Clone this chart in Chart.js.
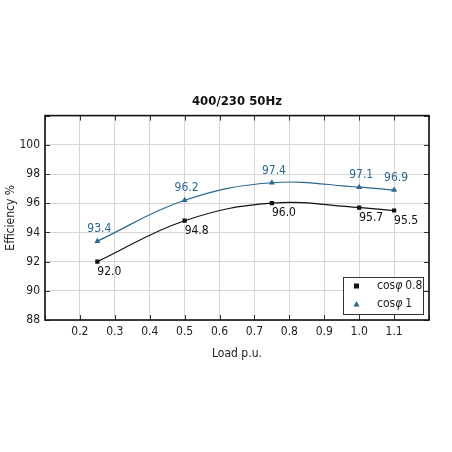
<!DOCTYPE html>
<html>
<head>
<meta charset="utf-8">
<script src="https://cdn.jsdelivr.net/npm/chart.js@4.4.1/dist/chart.umd.min.js"></script>
<style>
  html, body { margin: 0; padding: 0; background: #fff; }
  #wrap { width: 452px; height: 452px; }
</style>
</head>
<body>
<div id="wrap"><canvas id="grafico"></canvas></div>
<script>
// dados
const carga = [0.25, 0.5, 0.75, 1.0, 1.1];
const efic08 = [92.0, 94.8, 96.0, 95.7, 95.5];
const efic1 = [93.4, 96.2, 97.4, 97.1, 96.9];
const nomes = ['0.8', '1'];

const fonte = '"Liberation Sans Narrow", "DejaVu Sans Condensed", "Noto Sans", sans-serif';
const preto = '#111111';
const azul = '#2a6790';

function pontos(ys) {
    return carga.map((x, i) => ({ x: x, y: ys[i] }));
}

// rótulos dos valores, moldura, ticks internos e legenda
const extras = {
    id: 'extras',
    afterDatasetsDraw(chart) {
        const ctx = chart.ctx;
        const a = chart.chartArea;
        const sx = chart.scales.x, sy = chart.scales.y;
        ctx.save();
        ctx.font = '12px ' + fonte;

        // valores
        chart.getDatasetMeta(0).data.forEach((p, i) => {
            ctx.fillStyle = preto;
            ctx.textAlign = 'left';
            ctx.textBaseline = 'middle';
            ctx.fillText(efic08[i].toFixed(1), p.x, p.y + 10);
        });
        chart.getDatasetMeta(1).data.forEach((p, i) => {
            ctx.fillStyle = azul;
            ctx.textAlign = 'center';
            ctx.textBaseline = 'middle';
            ctx.fillText(efic1[i].toFixed(1), p.x + 2, p.y - 12);
        });

        // ticks para dentro
        ctx.strokeStyle = '#333';
        ctx.lineWidth = 1;
        ctx.beginPath();
        sx.ticks.forEach(t => {
            const px = Math.round(sx.getPixelForValue(t.value)) + 0.5;
            ctx.moveTo(px, a.top); ctx.lineTo(px, a.top + 5);
            ctx.moveTo(px, a.bottom); ctx.lineTo(px, a.bottom - 5);
        });
        sy.ticks.forEach(t => {
            const py = Math.round(sy.getPixelForValue(t.value)) + 0.5;
            ctx.moveTo(a.left, py); ctx.lineTo(a.left + 5, py);
            ctx.moveTo(a.right, py); ctx.lineTo(a.right - 5, py);
        });
        ctx.stroke();

        // moldura
        ctx.strokeStyle = preto;
        ctx.lineWidth = 1.6;
        ctx.strokeRect(a.left, a.top, a.right - a.left, a.bottom - a.top);

        // legenda
        const lx = a.right - 86, ly = a.bottom - 43, lw = 80, lh = 37;
        ctx.fillStyle = '#fff';
        ctx.fillRect(lx, ly, lw, lh);
        ctx.strokeStyle = '#333';
        ctx.lineWidth = 1;
        ctx.strokeRect(lx + 0.5, ly + 0.5, lw, lh);
        const cores = [preto, azul];
        nomes.forEach((n, i) => {
            const yy = ly + 9 + i * 18;
            ctx.fillStyle = cores[i];
            if (i === 0) {
                ctx.fillRect(lx + 11, yy - 2.5, 5, 5);
            } else {
                ctx.beginPath();
                ctx.moveTo(lx + 13.5, yy - 3);
                ctx.lineTo(lx + 16.5, yy + 2.5);
                ctx.lineTo(lx + 10.5, yy + 2.5);
                ctx.closePath();
                ctx.fill();
            }
            ctx.fillStyle = '#222';
            ctx.textAlign = 'left';
            ctx.textBaseline = 'middle';
            let xx = lx + 34;
            ctx.font = '12px ' + fonte;
            ctx.fillText('cos', xx, yy);
            xx += ctx.measureText('cos').width;
            ctx.font = 'italic 12px ' + fonte;
            ctx.fillText('φ', xx, yy);
            xx += ctx.measureText('φ').width + 3;
            ctx.font = '12px ' + fonte;
            ctx.fillText(n, xx, yy);
        });
        ctx.restore();
    }
};

function gerarGrafico() {
    const config = {
        type: 'line',
        data: {
            datasets: [{
                label: 'cosφ ' + nomes[0],
                data: pontos(efic08),
                borderColor: preto,
                backgroundColor: preto,
                borderWidth: 1.2,
                pointStyle: 'rect',
                pointRadius: 3,
                pointBorderWidth: 0,
                tension: 0.4
            }, {
                label: 'cosφ ' + nomes[1],
                data: pontos(efic1),
                borderColor: azul,
                backgroundColor: azul,
                borderWidth: 1.2,
                pointStyle: 'triangle',
                pointRadius: 3.5,
                pointBorderWidth: 0,
                tension: 0.4
            }]
        },
        options: {
            responsive: true,
            maintainAspectRatio: false,
            animation: false,
            layout: { padding: { top: 94, right: 23, bottom: 87, left: 0 } },
            plugins: {
                legend: { display: false },
                tooltip: { enabled: false },
                title: {
                    display: true,
                    text: '400/230 50Hz',
                    fullSize: false,
                    color: '#111',
                    font: { family: fonte, size: 13, weight: 'bold' },
                    padding: { top: 0, bottom: 6 }
                }
            },
            scales: {
                x: {
                    type: 'linear',
                    min: 0.1,
                    max: 1.2,
                    afterFit: s => { s.height = 45; },
                    ticks: {
                        stepSize: 0.1,
                        color: '#222',
                        font: { family: fonte, size: 12 },
                        padding: 5,
                        callback: v => {
                            const r = Math.round(v * 10);
                            return (r === 1 || r === 12) ? '' : (r / 10).toFixed(1);
                        }
                    },
                    grid: { color: '#d6d6d6', drawTicks: false },
                    border: { display: false },
                    title: {
                        display: true,
                        text: 'Load p.u.',
                        color: '#222',
                        font: { family: fonte, size: 12 },
                        padding: { top: 4 }
                    }
                },
                y: {
                    min: 88,
                    max: 102,
                    afterFit: s => { s.width = 45; },
                    ticks: {
                        stepSize: 2,
                        color: '#222',
                        font: { family: fonte, size: 12 },
                        padding: 5,
                        callback: v => (v === 102 ? '' : v)
                    },
                    grid: { color: '#d6d6d6', drawTicks: false },
                    border: { display: false },
                    title: {
                        display: true,
                        text: 'Efficiency %',
                        color: '#222',
                        font: { family: fonte, size: 12 },
                        padding: { bottom: 2 }
                    }
                }
            }
        },
        plugins: [extras]
    };

    const ctx = document.getElementById('grafico').getContext('2d');
    window.meuGrafico = new Chart(ctx, config);
}

gerarGrafico();
</script>
</body>
</html>
